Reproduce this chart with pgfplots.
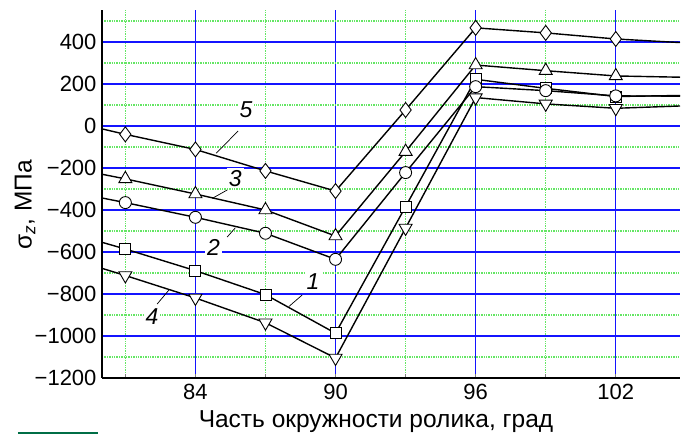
\documentclass[border=0pt]{standalone}
\usepackage{pgfplots}
\pgfplotsset{compat=1.18}
\usepackage{fontspec}
\setmainfont{Liberation Sans}
\definecolor{mgrid}{RGB}{20,20,255}
\definecolor{ngrid}{RGB}{100,230,100}
\definecolor{dgreen}{RGB}{0,110,70}
\begin{document}
\begin{tikzpicture}
\useasboundingbox (-102pt,-57pt) rectangle (588pt,378pt);
\begin{axis}[
  scale only axis, width=578pt, height=368pt,
  xmin=80, xmax=104.75, ymin=-1200, ymax=552,
  axis x line=bottom, axis y line=left,
  axis line style={-, line width=1.3pt},
  xtick={84,90,96,102},
  minor xtick={81,87,93,99},
  ytick={-1200,-1000,-800,-600,-400,-200,0,200,400},
  yticklabels={−1200,−1000,−800,−600,−400,−200,0,200,400},
  minor ytick={-1100,-900,-700,-500,-300,-100,100,300,500},
  grid=both,
  major grid style={color=mgrid, line width=1.4pt, solid},
  minor grid style={color=ngrid, line width=1.4pt, densely dotted},
  xtick align=inside,
  major tick length=4pt, minor tick length=4pt,
  x tick style={line width=1pt},
  y tick style={draw=none},
  tick label style={font=\fontsize{22}{24}\selectfont},
  xticklabel style={yshift=-3pt},
  /pgf/number format/assume math mode=true,
  xlabel={Часть окружности ролика, град},
  xlabel style={font=\fontsize{24.5}{27}\selectfont, at={(axis description cs:0.474,0)}, anchor=base, yshift=-50pt},
  ylabel={σ\textsubscript{\textit{z}}, МПа},
  ylabel style={font=\fontsize{24.5}{27}\selectfont, at={(axis description cs:-0.133,0.47)}, anchor=center},
  clip=true,
]
\pgfplotsset{mk/.style={mark options={fill=white, draw=black, line width=0.9pt, solid}}}
% curve 1 squares
\addplot[black, line width=1.4pt, mark=square*, mark size=5.5pt, mk, mark indices={2,...,9}] coordinates {
(80,-554) (81,-586) (84,-689) (87,-803) (90,-987) (93,-384) (96,222) (99,179) (102,140) (104.75,145)};
% curve 2 circles
\addplot[black, line width=1.4pt, mark=*, mark size=6pt, mk, mark indices={2,...,9}] coordinates {
(80,-343) (81,-365) (84,-435) (87,-511) (90,-635) (93,-222) (96,187) (99,168) (102,143) (104.75,142)};
% curve 3 triangles
\addplot[black, line width=1.4pt, mark=triangle*, mark size=7.5pt, mk, mark indices={2,...,9}] coordinates {
(80,-230) (81,-252) (84,-324) (87,-400) (90,-524) (93,-122) (96,290) (99,263) (102,238) (104.75,232)};
% curve 4 inverted triangles
\addplot[black, line width=1.4pt, mark=triangle*, mark size=7.5pt, mark options={fill=white, draw=black, line width=0.9pt, rotate=180}, mark indices={2,...,9}] coordinates {
(80,-678) (81,-712) (84,-819) (87,-937) (90,-1105) (93,-486) (96,135) (99,105) (102,84) (104.75,95)};
% curve 5 diamonds
\addplot[black, line width=1.4pt, mark=diamond*, mark size=7.5pt, mk, mark indices={2,...,9}] coordinates {
(80,-14) (81,-40) (84,-112) (87,-214) (90,-310) (93,76) (96,467) (99,443) (102,414) (104.75,397)};
% labels
\tikzset{lbl/.style={font=\fontsize{23}{25}\selectfont\itshape, fill=white, inner sep=2pt}}
\draw[black, line width=0.7pt] (axis cs:85.83,-24) -- (axis cs:84.89,-130);
\draw[black, line width=0.7pt] (axis cs:85.36,-305) -- (axis cs:84.72,-345);
\draw[black, line width=0.7pt] (axis cs:85.36,-529) -- (axis cs:85.71,-485);
\draw[black, line width=0.7pt] (axis cs:88.57,-805) -- (axis cs:88.0,-860);
\draw[black, line width=0.7pt] (axis cs:82.36,-848) -- (axis cs:82.86,-782);
\node[lbl] at (axis cs:86.17,76) {5};
\node[lbl] at (axis cs:85.71,-249) {3};
\node[lbl] at (axis cs:84.77,-580) {2};
\node[lbl] at (axis cs:89.04,-741) {1};
\node[lbl] at (axis cs:82.14,-908) {4};
\end{axis}
\draw[dgreen, line width=2pt] (-84pt,-55pt) -- (-4pt,-55pt);
\end{tikzpicture}
\end{document}
